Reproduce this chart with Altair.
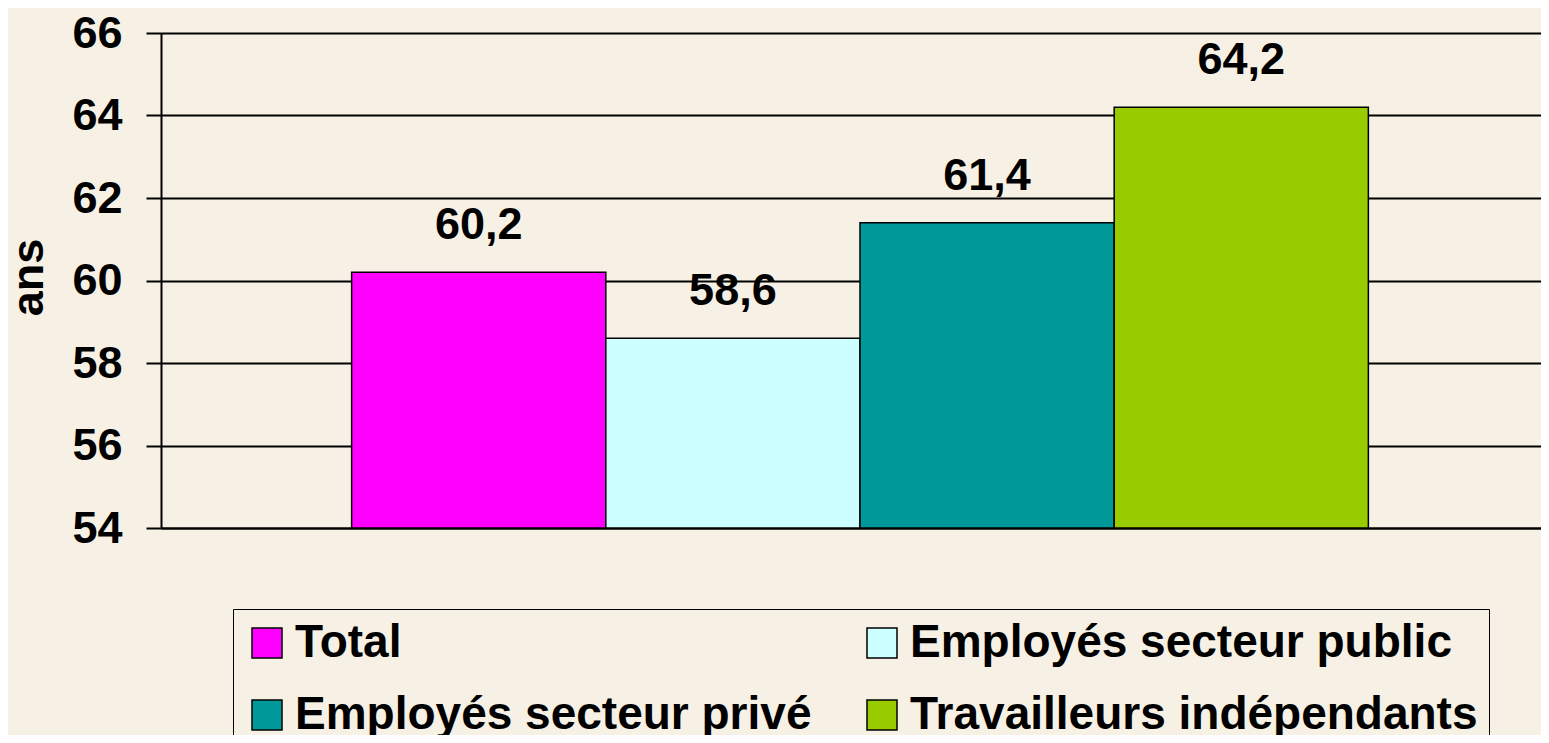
import altair as alt
import pandas as pd

categories = ["Total", "Employés secteur public", "Employés secteur privé", "Travailleurs indépendants"]
values = [60.2, 58.6, 61.4, 64.2]
colors = ["#FF00FF", "#CCFFFF", "#009999", "#99CC00"]
y_ticks = [54, 56, 58, 60, 62, 64, 66]

# legend reading order (legend fills column by column)
legend_order = [categories[0], categories[2], categories[1], categories[3]]
legend_colors = [colors[0], colors[2], colors[1], colors[3]]

df = pd.DataFrame({
    "cat": categories,
    "val": values,
    "label": [f"{v:.1f}".replace(".", ",") for v in values],
})

FONT = "Liberation Sans"
FS = 45

x_enc = alt.X(
    "cat:N",
    sort=categories,
    scale=alt.Scale(paddingInner=0, paddingOuter=0.75),
    axis=alt.Axis(labels=False, ticks=False, title=None, domainColor="black", domainWidth=2, grid=False),
)
y_scale = alt.Scale(domain=[54, 66], zero=False, nice=False)

bars = alt.Chart(df).mark_bar(stroke="black", strokeWidth=1.5).encode(
    x=x_enc,
    y=alt.Y(
        "val:Q",
        scale=y_scale,
        axis=alt.Axis(
            values=y_ticks, format="d", grid=True, gridColor="black", gridWidth=2,
            domainColor="black", domainWidth=2, tickColor="black", tickWidth=2, tickSize=15,
            labelFont=FONT, labelFontSize=FS, labelFontWeight="bold", labelColor="black",
            labelPadding=24, title="ans", titleFont=FONT, titleFontSize=FS,
            titleFontWeight="bold", titleColor="black", titleAngle=270,
            titleX=-119, titleY=244, titleAlign="center", titleBaseline="alphabetic",
        ),
    ),
    y2=alt.datum(54),
    color=alt.Color(
        "cat:N",
        scale=alt.Scale(domain=legend_order, range=legend_colors),
        legend=alt.Legend(
            orient="none", legendX=72, legendY=576, columns=2, title=None,
            symbolType="square", symbolSize=900, symbolStrokeColor="black",
            symbolStrokeWidth=1.5, labelFont=FONT, labelFontSize=46,
            labelFontWeight="bold", labelColor="black", labelOffset=5,
            labelLimit=1000, columnPadding=47, rowPadding=26, padding=11,
            strokeColor="black",
        ),
    ),
)

labels = alt.Chart(df).mark_text(
    font=FONT, fontSize=FS, fontWeight="bold", color="black", dy=-33, baseline="alphabetic"
).encode(
    x=alt.X("cat:N", sort=categories),
    y=alt.Y("val:Q", scale=y_scale),
    text="label:N",
)

chart = (bars + labels).properties(
    width=1398,
    height=495,
    autosize=alt.AutoSizeParams(type="none"),
    padding={"left": 153, "top": 25, "right": -18, "bottom": 207},
    background="#F7F1E5",
).configure_view(stroke=None)

chart.save("out.html", embed_options={"renderer": "svg", "actions": False})
